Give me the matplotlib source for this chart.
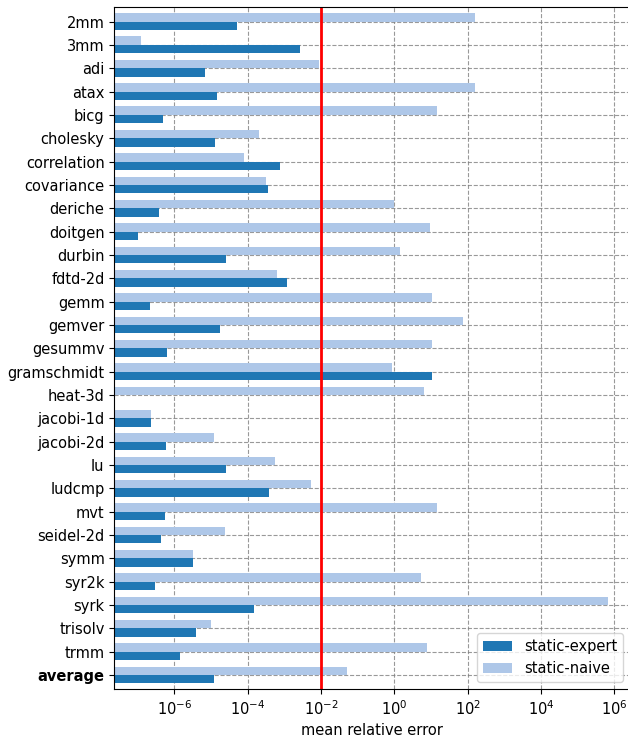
import numpy as np
import matplotlib.pyplot as plt
from matplotlib.ticker import NullLocator

benchmarks = ["2mm", "3mm", "adi", "atax", "bicg", "cholesky", "correlation",
              "covariance", "deriche", "doitgen", "durbin", "fdtd-2d", "gemm",
              "gemver", "gesummv", "gramschmidt", "heat-3d", "jacobi-1d",
              "jacobi-2d", "lu", "ludcmp", "mvt", "seidel-2d", "symm", "syr2k",
              "syrk", "trisolv", "trmm", "average"]

static_expert = [5.0e-5, 2.7e-3, 6.8e-6, 1.44e-5, 4.8e-7, 1.27e-5, 7.6e-4,
                 3.5e-4, 3.75e-7, 1.0e-7, 2.5e-5, 1.2e-3, 2.1e-7, 1.74e-5,
                 6.2e-7, 10.3, 0.0, 2.3e-7, 5.8e-7, 2.5e-5, 3.8e-4, 5.5e-7,
                 4.2e-7, 3.2e-6, 2.9e-7, 1.47e-4, 3.8e-6, 1.4e-6, 1.2e-5]

static_naive = [155, 1.2e-7, 9.0e-3, 155, 14.7, 2.0e-4, 7.9e-5, 3.1e-4, 1.0,
                9.5, 1.38, 6.3e-4, 10.3, 76, 10.3, 0.87, 6.5, 2.3e-7, 1.2e-5,
                5.5e-4, 5.3e-3, 14.7, 2.4e-5, 3.2e-6, 5.4, 6.5e5, 9.9e-6, 7.9,
                0.051]

threshold = 1e-2

plt.rcParams["font.size"] = 10.5

y = np.arange(len(benchmarks))
h = 0.36

fig = plt.figure(figsize=(6.28, 7.37), dpi=100)
ax = fig.add_axes([0.182, 0.0647, 0.822, 0.9254])

ax.barh(y - h / 2, static_naive, height=h, color="#aec7e8", label="static-naive")
ax.barh(y + h / 2, static_expert, height=h, color="#1f77b4", label="static-expert")
ax.axvline(threshold, color="red", linewidth=2)

ax.set_xscale("log")
ax.set_xlim(10 ** -7.64, 10 ** 6.44)
ax.set_ylim(len(benchmarks) - 1 + h + 0.25, -h - 0.25)
ax.set_xticks([10.0 ** k for k in range(-6, 7, 2)])
ax.xaxis.set_minor_locator(NullLocator())

ax.set_yticks(y)
ax.set_yticklabels(benchmarks)
ax.get_yticklabels()[-1].set_fontweight("bold")

ax.set_axisbelow(True)
ax.grid(True, linestyle="--", color="gray", alpha=0.8)
ax.set_xlabel("mean relative error")

# expert first in the legend
handles, labels = ax.get_legend_handles_labels()
ax.legend(handles[::-1], labels[::-1], loc="lower right")

fig.savefig("out.png", dpi=100)
